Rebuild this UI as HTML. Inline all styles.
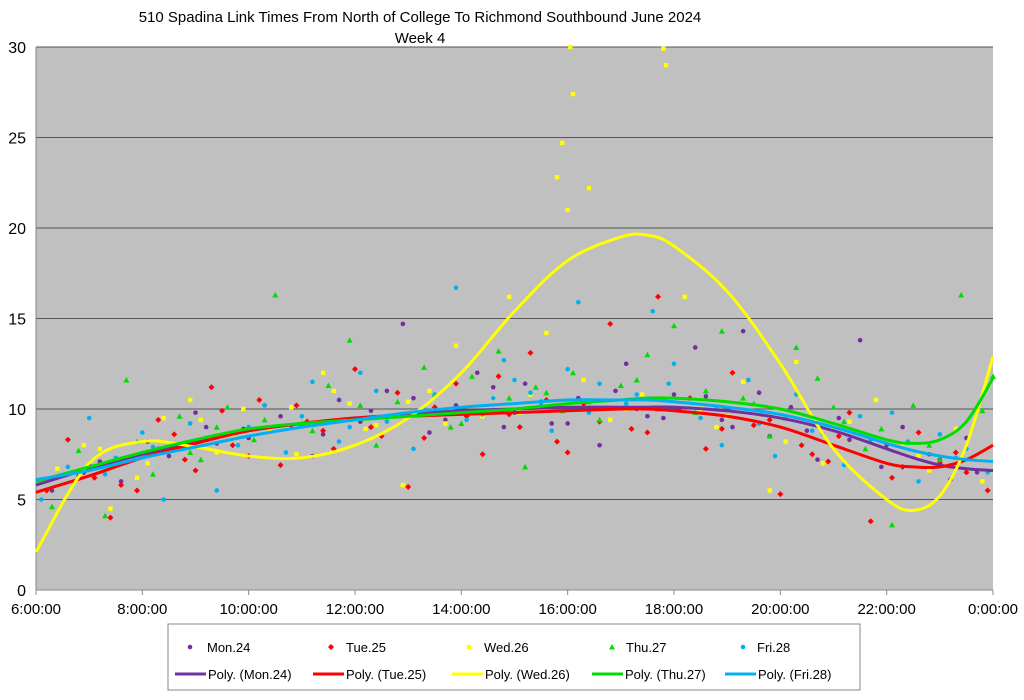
<!DOCTYPE html>
<html><head><meta charset="utf-8"><style>
body{margin:0;background:#fff;font-family:"Liberation Sans",sans-serif}
svg text{font-family:"Liberation Sans",sans-serif}
</style></head><body>
<svg id="chart" width="1024" height="695" viewBox="0 0 1024 695">
<text x="420" y="22" text-anchor="middle" font-size="15">510 Spadina Link Times From North of College To Richmond Southbound June 2024</text>
<text x="420" y="43" text-anchor="middle" font-size="15">Week 4</text>
<rect x="36" y="47" width="957" height="543" fill="#c0c0c0"/>
<g id="grid"></g><g id="axes"></g><g id="points"></g><g id="trends"></g>
<rect x="168" y="624" width="692" height="66" fill="#fff" stroke="#888"/>
<g id="legend"></g>
</svg>
<script>
const yTicks=[0,5,10,15,20,25,30];
const xTicks=[6,8,10,12,14,16,18,20,22,24];
const xTickLabels=["6:00:00","8:00:00","10:00:00","12:00:00","14:00:00","16:00:00","18:00:00","20:00:00","22:00:00","0:00:00"];
const seriesNames=["Mon.24","Tue.25","Wed.26","Thu.27","Fri.28"];
const monT=[6.3,6.8,7.2,7.6,8.1,8.5,9.0,9.4,9.9,10.3,10.8,11.2,11.7,12.1,12.6,12.9,13.4,13.9,14.3,14.8,15.2,15.7,16.2,16.6,17.1,17.5,18.0,18.4,18.9,19.3,19.8,20.2,20.7,21.1,21.5,21.9,22.3,22.8,23.2,23.7,
 7.0,8.3,9.2,10.0,10.6,11.4,12.3,13.1,13.7,14.6,15.0,15.5,16.0,16.9,17.3,17.8,18.6,19.1,19.6,20.5,21.3,22.0,23.0,23.5];
const monV=[5.5,6.3,7.1,6.0,8.2,7.4,9.8,8.1,8.9,10.2,9.1,7.4,10.5,9.3,11.0,14.7,8.7,10.2,12.0,9.0,11.4,9.2,10.6,8.0,12.5,9.6,10.8,13.4,9.4,14.3,8.5,10.1,7.2,9.5,13.8,6.8,9.0,7.5,6.1,6.5,
 6.9,7.8,9.0,8.4,9.6,8.6,9.9,10.6,9.4,11.2,9.8,10.4,9.2,11.0,10.0,9.5,10.7,9.0,10.9,8.8,8.3,8.0,7.2,8.4];
const tueT=[6.2,6.6,7.1,7.4,7.9,8.3,8.8,9.3,9.7,10.2,10.6,11.1,11.6,12.0,12.5,13.0,13.5,13.9,14.4,14.9,15.3,15.8,16.3,16.8,17.2,17.7,18.1,18.6,19.1,19.5,20.0,20.4,20.9,21.3,21.7,22.1,22.6,23.0,23.5,23.9,
 6.9,7.6,8.6,9.0,9.5,10.0,10.9,11.4,12.3,12.8,13.3,14.1,14.7,15.1,15.6,16.0,16.6,17.5,18.3,18.9,19.8,20.6,21.1,22.3,23.3];
const tueV=[5.5,8.3,6.2,4.0,5.5,9.4,7.2,11.2,8.0,10.5,6.9,9.3,7.8,12.2,8.5,5.7,10.1,11.4,7.5,9.7,13.1,8.2,10.3,14.7,8.9,16.2,10.0,7.8,12.0,9.1,5.3,8.0,7.1,9.8,3.8,6.2,8.7,7.0,6.5,5.5,
 6.5,5.8,8.6,6.6,9.9,7.4,10.2,8.8,9.0,10.9,8.4,9.6,11.8,9.0,10.5,7.6,9.3,8.7,10.6,8.9,9.4,7.5,8.5,6.8,7.6];
const wedT=[6.4,6.9,7.4,7.9,8.4,8.9,9.4,9.9,10.4,10.9,11.4,11.9,12.4,12.9,13.4,13.9,14.4,14.9,15.3,15.8,15.9,16.0,16.05,16.1,16.4,17.1,17.8,17.85,18.2,18.8,19.3,19.8,20.3,20.8,21.3,21.8,22.3,22.8,23.3,23.8,
 7.2,8.1,9.1,9.7,10.8,11.6,12.2,13.0,13.7,14.6,15.1,15.6,16.3,16.8,17.4,18.5,19.0,20.1,21.0,22.6];
const wedV=[6.7,8.0,4.5,6.2,9.5,10.5,7.6,10.0,8.8,7.5,12.0,10.3,9.1,5.8,11.0,13.5,9.6,16.2,10.8,22.8,24.7,21.0,30.0,27.4,22.2,10.0,29.9,29.0,16.2,9.0,11.5,5.5,12.6,7.0,9.3,10.5,8.1,6.6,8.9,6.0,
 7.8,7.0,9.4,8.6,10.1,11.0,8.9,10.4,9.2,10.6,9.8,14.2,11.6,9.4,10.8,10.0,9.6,8.2,9.0,7.4];
const thuT=[6.3,6.8,7.3,7.7,8.2,8.7,9.1,9.6,10.1,10.5,11.0,11.5,11.9,12.4,12.8,13.3,13.8,14.2,14.7,15.2,15.6,16.1,16.6,17.0,17.5,18.0,18.4,18.9,19.3,19.8,20.3,20.7,21.2,21.6,22.1,22.5,23.0,23.4,23.8,24.0,
 7.0,7.9,8.9,9.4,10.3,11.2,12.1,12.6,13.5,14.0,14.9,15.4,15.9,16.4,17.3,17.7,18.6,19.5,20.1,21.0,21.9,22.8];
const thuV=[4.6,7.7,4.1,11.6,6.4,9.6,7.2,10.1,8.3,16.3,9.2,11.3,13.8,8.0,10.4,12.3,9.0,11.8,13.2,6.8,10.9,12.0,9.4,11.3,13.0,14.6,9.8,14.3,10.6,8.5,13.4,11.7,9.3,7.8,3.6,10.2,7.2,16.3,9.9,11.8,
 6.8,8.2,7.6,9.0,9.4,8.8,10.2,9.6,10.8,9.2,10.6,11.2,9.9,10.4,11.6,10.0,11.0,10.3,9.5,10.1,8.9,8.0];
const friT=[6.1,6.6,7.0,7.5,8.0,8.4,8.9,9.4,9.8,10.3,10.7,11.2,11.7,12.1,12.6,13.1,13.5,13.9,14.4,14.8,15.3,15.7,16.2,16.6,17.1,17.6,18.0,18.5,18.9,19.4,19.9,20.3,20.8,21.2,21.7,22.1,22.6,23.0,23.5,23.9,
 7.3,8.2,9.2,10.0,11.0,11.9,12.4,13.3,14.1,14.6,15.0,15.5,16.0,16.4,17.3,17.9,18.8,19.6,20.6,21.5,22.4,23.3];
const friV=[5.0,6.8,9.5,7.3,8.7,5.0,9.2,5.5,8.0,10.2,7.6,11.5,8.2,12.0,9.3,7.8,10.8,16.7,9.7,12.7,10.9,8.8,15.9,11.4,10.3,15.4,12.5,9.5,8.0,11.6,7.4,10.8,8.6,6.9,8.3,9.8,6.0,8.6,7.8,6.5,
 6.4,7.9,8.4,9.0,9.6,9.0,11.0,10.0,9.4,10.6,11.6,10.2,12.2,9.8,10.8,11.4,10.0,9.2,8.8,9.6,8.2,7.3];
const trendT=[6,7,8,9,10,11,12,13,14,15,16,17,17.5,18,19,20,21,22,22.5,23,23.5,24];
const monTrend=[5.8,6.7,7.5,8.2,8.8,9.2,9.5,9.7,9.9,10.0,10.1,10.1,10.1,10.1,9.9,9.5,8.8,7.8,7.3,6.9,6.7,6.6];
const tueTrend=[5.4,6.3,7.3,8.1,8.8,9.2,9.5,9.6,9.7,9.8,9.9,10.0,10.0,9.9,9.6,9.0,8.0,7.0,6.8,6.8,7.2,8.0];
const wedTrend=[2.1,7.0,8.2,7.9,7.4,7.3,8.0,9.5,12.0,15.4,18.2,19.5,19.6,19.0,16.5,12.5,7.8,5.0,4.4,5.2,8.0,12.9];
const thuTrend=[6.0,6.8,7.6,8.3,8.9,9.2,9.4,9.6,9.8,10.0,10.3,10.5,10.6,10.6,10.4,10.0,9.2,8.3,8.1,8.3,9.3,11.7];
const friTrend=[6.1,6.6,7.3,7.9,8.5,9.0,9.4,9.8,10.1,10.3,10.5,10.5,10.5,10.4,10.1,9.7,9.0,8.1,7.7,7.4,7.2,7.1];
const colors=["#7030a0","#ff0000","#ffff00","#00dd00","#00b0f0"];
const NS="http://www.w3.org/2000/svg";
const X0=36,X1=993,Y0=590,Y1=47;
const xs=h=>X0+(h-6)/18*(X1-X0);
const ys=v=>Y0-v/30*(Y0-Y1);
function mk(tag,attrs,parent){const e=document.createElementNS(NS,tag);for(const k in attrs)e.setAttribute(k,attrs[k]);document.getElementById(parent).appendChild(e);return e;}
yTicks.forEach(v=>{
 const l=mk("line",{x1:X0,x2:X1,y1:ys(v),y2:ys(v),stroke:v===0?"#888":"#555","stroke-width":1},"grid");
 
 
 const t=mk("text",{x:26,y:ys(v)+6,"text-anchor":"end","font-size":16},"axes");t.textContent=v;
 
 
});
xTicks.forEach((h,i)=>{
 const t=mk("text",{x:xs(h),y:614,"text-anchor":"middle","font-size":15},"axes");t.textContent=xTickLabels[i];
 
 
 const k=mk("line",{x1:xs(h),x2:xs(h),y1:590,y2:595,stroke:"#888"},"axes");
 
 
});
mk("line",{x1:X0,x2:X0,y1:Y1,y2:Y0,stroke:"#888"},"axes");
function marker(shape,x,y,c,parent){
 let e;
 if(shape===0||shape===4)e=mk("circle",{cx:x,cy:y,r:2.3,fill:c},parent);
 else if(shape===1)e=mk("path",{d:`M${x} ${y-3}L${x+3} ${y}L${x} ${y+3}L${x-3} ${y}Z`,fill:c},parent);
 else if(shape===2)e=mk("rect",{x:x-2.2,y:y-2.2,width:4.4,height:4.4,fill:c},parent);
 else e=mk("path",{d:`M${x} ${y-3}L${x+3} ${y+2.5}L${x-3} ${y+2.5}Z`,fill:c},parent);
 return e;
}
const pts=[[monT,monV],[tueT,tueV],[wedT,wedV],[thuT,thuV],[friT,friV]];
pts.forEach((s,si)=>{s[0].forEach((t,i)=>{
 const e=marker(si,xs(t),ys(s[1][i]),colors[si],"points");
 
 
});});
function spline(T,V){
 const p=T.map((t,i)=>[xs(t),ys(V[i])]);let d=`M${p[0][0]} ${p[0][1]}`;
 for(let i=0;i<p.length-1;i++){const a=p[i-1]||p[i],b=p[i],c=p[i+1],e=p[i+2]||c;
  d+=`C${b[0]+(c[0]-a[0])/6} ${b[1]+(c[1]-a[1])/6} ${c[0]-(e[0]-b[0])/6} ${c[1]-(e[1]-b[1])/6} ${c[0]} ${c[1]}`;}
 return d;}
[monTrend,tueTrend,wedTrend,thuTrend,friTrend].forEach((v,si)=>{
 const e=mk("path",{d:spline(trendT,v),fill:"none",stroke:colors[si],"stroke-width":3},"trends");
 
 
});
const lx=[190,331,469,612,743],tx=[207,346,484,626,757],l2=[175,313,452,592,725];
seriesNames.forEach((n,si)=>{
 const m=marker(si,lx[si],647,colors[si],"legend");
 
 
 const t=mk("text",{x:tx[si],y:652,"font-size":13},"legend");t.textContent=n;
 
 
 const l=mk("line",{x1:l2[si],x2:l2[si]+31,y1:674,y2:674,stroke:colors[si],"stroke-width":3},"legend");
 
 
 const t2=mk("text",{x:l2[si]+33,y:679,"font-size":13},"legend");t2.textContent="Poly. ("+n+")";
 
 
});
</script>
</body></html>
